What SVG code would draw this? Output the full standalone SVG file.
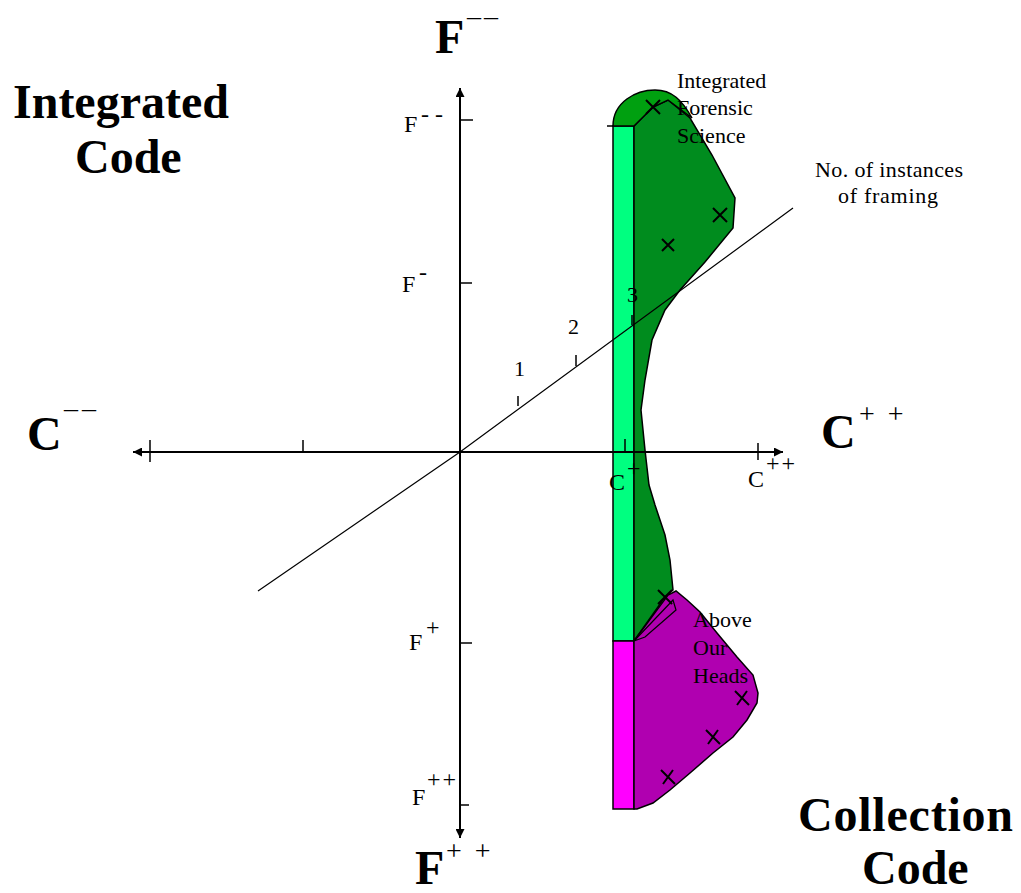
<svg xmlns="http://www.w3.org/2000/svg" width="1021" height="893" viewBox="0 0 1021 893">
<defs>
<style>
.big{font-family:"Liberation Serif",serif;font-weight:bold;font-size:48px;fill:#000}
.sup{font-family:"Liberation Serif",serif;font-size:28px;fill:#000}
.sm{font-family:"Liberation Serif",serif;font-size:24px;fill:#000}
.lab{font-family:"Liberation Serif",serif;font-size:22px;fill:#000}
.ax{stroke:#000;stroke-width:2;fill:none}
.tk{stroke:#000;stroke-width:1.5;fill:none}
.xm{stroke:#000;stroke-width:2;fill:none}
.ol{stroke:#000;stroke-width:1.5}
</style>
<marker id="ah" viewBox="0 0 10 10" refX="10" refY="5" markerWidth="9" markerHeight="9" markerUnits="userSpaceOnUse" orient="auto">
<path d="M0,0 L10,5 L0,10 Z" fill="#000"/>
</marker>
</defs>
<rect width="1021" height="893" fill="#fff"/>

<g id="bars">
<rect x="613" y="126" width="21" height="515" fill="#00FF80" class="ol"/>
<rect x="613" y="641" width="21" height="168" fill="#FF00FF" class="ol"/>
</g>

<g id="integrated-forensic-science">
<path d="M634,126 L653,107 L668,100 L690,118 L712,155 L735,198 L733,228 L705,262 L680,290 L665,310 L652,340 L645,380 L641,410 L645,450 L649,485 L655,505 L665,535 L670,560 L673,590 L665,597 L634,641 Z" fill="#008C1E" class="ol"/>
<path d="M613,126 C613,102 636,90 655,90 C672,90 682,100 692,118 L668,100 L653,107 L634,126 Z" fill="#00A010" class="ol"/>
<path class="xm" d="M646,100 L660,114 M660,100 L646,114"/>
<path class="xm" d="M713,208 L727,222 M727,208 L713,222"/>
<path class="xm" d="M662,239 L674,251 M674,239 L662,251"/>
</g>

<g id="above-our-heads">
<path d="M634,641 L668,595 L676,591 L687,600 L700,612 L717,633 L737,657 L753,675 L758,693 L757,703 L747,720 L733,737 L713,753 L690,773 L670,790 L653,803 L637,809 L634,809 Z" fill="#B000B0" class="ol"/>
<path d="M634,641 L673,600 L676,610 L645,637 Z" fill="none" stroke="#000" stroke-width="1.2"/>
<path class="xm" d="M658,590 L672,604 M672,590 L658,604"/>
<path class="xm" d="M735,691 L749,705 M747,691 L737,705"/>
<path class="xm" d="M706,730 L720,744 M718,730 L708,744"/>
<path class="xm" d="M661,770 L675,784 M673,770 L663,784"/>
</g>

<g id="connectors">
<line class="ax" x1="460" y1="821" x2="460" y2="103"/>
<line class="ax" x1="460" y1="105" x2="460" y2="88" marker-end="url(#ah)"/>
<line class="ax" x1="460" y1="815" x2="460" y2="838" marker-end="url(#ah)"/>
<line class="ax" x1="150" y1="452" x2="765" y2="452"/>
<line class="ax" x1="152" y1="452" x2="133" y2="452" marker-end="url(#ah)"/>
<line class="ax" x1="762" y1="452" x2="783" y2="452" marker-end="url(#ah)"/>
<path class="tk" d="M150,440 L150,462 M303,440 L303,452 M625,439 L625,452 M758,443 L758,460"/>
<path class="tk" d="M460,120 L473,120 M460,283 L472,283 M460,643 L472,643 M460,805 L469,805 M607,126 L613,126"/>
<polyline points="258,591 460,452 793,208" fill="none" stroke="#000" stroke-width="1.2"/>
<path class="tk" d="M518,406 L518,396 M576,366 L576,355 M632,325 L632,315"/>
</g>

<g id="labels">
<text class="big" x="13" y="118">Integrated</text>
<text class="big" x="75" y="173">Code</text>
<text class="big" x="798" y="831" textLength="215" lengthAdjust="spacing">Collection</text>
<text class="big" x="862" y="884">Code</text>

<text class="big" x="435" y="53">F</text>
<text class="sup" x="467" y="25" font-size="22" letter-spacing="3">––</text>
<text class="big" x="415" y="884">F</text>
<text class="sup" x="446" y="860" letter-spacing="13">++</text>
<text class="big" x="27" y="450">C</text>
<text class="sup" x="64" y="417" font-size="22" letter-spacing="4">––</text>
<text class="big" x="821" y="448">C</text>
<text class="sup" x="859" y="423" letter-spacing="13">++</text>

<text class="sm" x="404" y="132">F</text>
<text class="sm" x="421" y="122" font-size="18">- -</text>
<text class="sm" x="402" y="292">F</text>
<text class="sm" x="419" y="280" font-size="18">-</text>
<text class="sm" x="409" y="650">F</text>
<text class="sm" x="426" y="635" font-size="16">+</text>
<text class="sm" x="412" y="805">F</text>
<text class="sm" x="427" y="787" font-size="16" letter-spacing="2">++</text>
<text class="sm" x="609" y="490">C</text>
<text class="sm" x="627" y="476" font-size="28">+</text>
<text class="sm" x="748" y="487" font-size="20">C</text>
<text class="sm" x="766" y="471" font-size="18" letter-spacing="2">++</text>

<text class="lab" x="514" y="376">1</text>
<text class="lab" x="568" y="334">2</text>
<text class="lab" x="627" y="302">3</text>

<text class="lab" x="677" y="88">Integrated</text>
<text class="lab" x="677" y="115">Forensic</text>
<text class="lab" x="677" y="143">Science</text>
<text class="lab" x="815" y="177" textLength="148" lengthAdjust="spacing">No. of instances</text>
<text class="lab" x="838" y="203" textLength="100" lengthAdjust="spacing">of framing</text>
<text class="lab" x="693" y="627">Above</text>
<text class="lab" x="693" y="655">Our</text>
<text class="lab" x="693" y="683">Heads</text>
</g>
</svg>
